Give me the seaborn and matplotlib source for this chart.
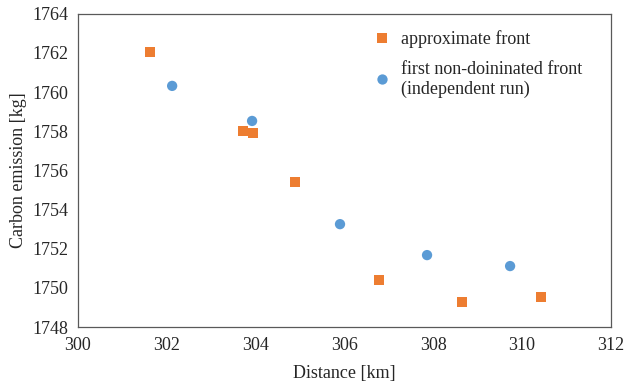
import numpy as np
import pandas as pd
import matplotlib
matplotlib.use('Agg')
import matplotlib.pyplot as plt
import seaborn as sns

# approximate front
approx_dist = [301.62, 303.71, 303.94, 304.89, 306.78, 308.64, 310.42]
approx_co2 = [1762.06, 1758.02, 1757.92, 1755.41, 1750.4, 1749.28, 1749.53]

# first non-dominated front (independent run)
first_dist = [302.12, 303.92, 305.90, 307.86, 309.73]
first_co2 = [1760.32, 1758.53, 1753.26, 1751.68, 1751.12]

labels = ['approximate front', 'first non-doininated front\n(independent run)']

df = pd.DataFrame({
    'Distance': approx_dist + first_dist,
    'Carbon': approx_co2 + first_co2,
    'Series': [labels[0]] * len(approx_dist) + [labels[1]] * len(first_dist),
})

sns.set_style('white')
plt.rcParams['font.family'] = ['Liberation Serif', 'DejaVu Serif']

fig = plt.figure(figsize=(6.24, 3.84), dpi=100)
ax = fig.add_axes([0.125, 0.148, 0.854, 0.816])

sns.scatterplot(data=df, x='Distance', y='Carbon', hue='Series', style='Series',
                palette=['#ED7D31', '#5B9BD5'], markers=['s', 'o'],
                s=55, linewidth=0, ax=ax)

ax.set_xlim(300, 312)
ax.set_ylim(1748, 1764)
ax.set_xticks(np.arange(300, 313, 2))
ax.set_yticks(np.arange(1748, 1765, 2))
ax.tick_params(labelsize=13, colors='#262626', length=0, pad=7)
ax.set_xlabel('Distance [km]', fontsize=13, color='#262626', labelpad=8)
ax.set_ylabel('Carbon emission [kg]', fontsize=13, color='#262626', labelpad=4)
for sp in ax.spines.values():
    sp.set_color('#595959')
    sp.set_linewidth(0.9)

ax.legend(frameon=False, loc='upper left', bbox_to_anchor=(0.516, 1.0),
          fontsize=13, handlelength=1.4, handletextpad=0.35,
          labelspacing=0.7, markerscale=1.0)

fig.savefig('out.png', dpi=100)
